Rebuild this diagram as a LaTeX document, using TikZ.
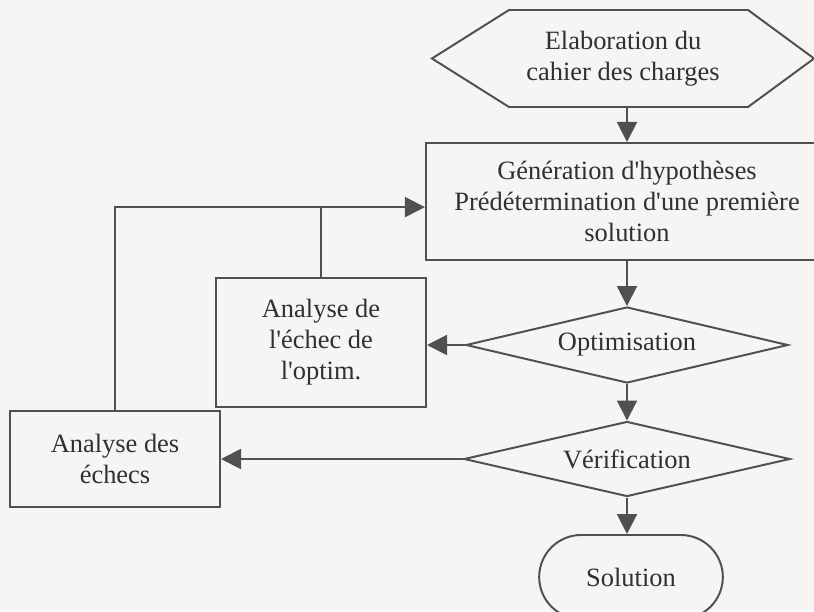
\documentclass[tikz,border=0pt]{standalone}
\usepackage{fontspec}
\setmainfont{Liberation Serif}[Ligatures=TeXOff]
\usetikzlibrary{shapes.geometric,shapes.misc,arrows.meta}
\definecolor{trait}{HTML}{505050}
\definecolor{encre}{HTML}{303030}
\definecolor{fond}{HTML}{F5F5F3}
\tikzset{
  boite/.style={draw=trait, line width=1.4pt, text=encre, align=center,
    font=\fontsize{18.8}{22}\selectfont},
  losange/.style={boite, diamond, aspect=4.3, inner sep=0pt},
  lien/.style={draw=trait, line width=1.4pt},
  fleche/.style={lien, -{Triangle[length=0.5cm,width=0.5cm]}}
}
\begin{document}
\begin{tikzpicture}[x=0.025cm,y=-0.025cm]
            \useasboundingbox (0,0) rectangle (814,611);
            \clip (0,0) rectangle (814,611);
            \fill[fond] (0,0) rectangle (814,611);

            % colonne principale
            \node[boite, draw=none, minimum width=9.5cm, minimum height=2.375cm] (elab) at (623,58.5)
                {Elaboration du\\cahier des charges};
            \draw[lien] (elab.west) -- ([xshift=1.925cm]elab.north west)
                -- ([xshift=-1.65cm]elab.north east) -- (elab.east)
                -- ([xshift=-1.65cm]elab.south east)
                -- ([xshift=1.925cm]elab.south west) -- cycle;
            \node[boite, minimum width=10.05cm, minimum height=2.925cm] (gen) at (627,201.5)
                {G\'en\'eration d'hypoth\`eses\\Pr\'ed\'etermination d'une premi\`ere\\solution};
            \node[losange, minimum width=8.05cm, minimum height=1.9cm] (opt) at (627,345) {Optimisation};
            \node[losange, minimum width=8.15cm, minimum height=1.875cm] (verif) at (627,459) {V\'erification};
            \node[boite, rounded rectangle, minimum width=4.825cm, minimum height=2.1cm] (sol) at (631,577) {Solution};

            % analyses
            \node[boite, minimum width=5.25cm, minimum height=3.225cm] (anaopt) at (321,342.5)
                {Analyse de\\l'\'echec de\\l'optim.};
            \node[boite, minimum width=5.25cm, minimum height=2.4cm] (anaech) at (115,459)
                {Analyse des\\\'echecs};

            \draw[fleche] (elab.south -| gen.north) -- (gen.north);
            \draw[fleche] (gen) -- (opt);
            \draw[fleche] (opt) -- (verif);
            \draw[fleche] (verif.south) -- (verif.south |- sol.north);
            \draw[fleche] (opt.west) -- (opt.west -| anaopt.east);
            \draw[fleche] (verif) -- (anaech);

            % retours
            \coordinate (retour) at ([yshift=-0.14cm]gen.west);
            \draw[lien] (anaopt.north) -- (anaopt.north |- retour);
            \draw[fleche] (anaech.north) |- (retour);
        \end{tikzpicture}
\end{document}
